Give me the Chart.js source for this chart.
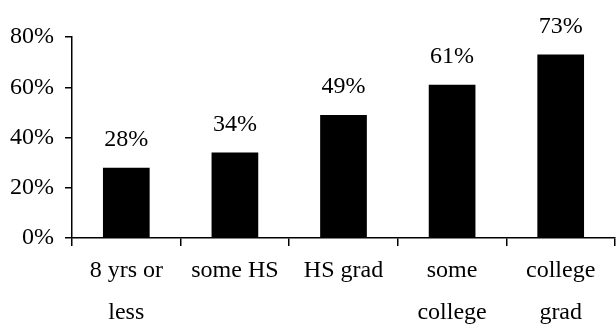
<!DOCTYPE html>
<html>
<head>
<meta charset="utf-8">
<script src="https://cdn.jsdelivr.net/npm/chart.js@4/dist/chart.umd.min.js"></script>
<style>
  html, body { margin: 0; padding: 0; background: #fff; }
  #wrap { width: 616px; height: 325px; }
</style>
</head>
<body>
<div id="wrap"><canvas id="chart" width="616" height="325"></canvas></div>
<script>
const categories = [["8 yrs or", "less"], "some HS", "HS grad", ["some", "college"], ["college", "grad"]];
const values = [28, 34, 49, 61, 73];
const yTicks = [0, 20, 40, 60, 80];

const fontFamily = "'Liberation Serif', 'Times New Roman', serif";

// draws the "28%" style labels above each bar
const valueLabels = {
  id: "valueLabels",
  afterDatasetsDraw(chart) {
    const ctx = chart.ctx;
    const meta = chart.getDatasetMeta(0);
    ctx.save();
    ctx.fillStyle = "#000";
    ctx.font = "24px " + fontFamily;
    ctx.textAlign = "center";
    ctx.textBaseline = "alphabetic";
    meta.data.forEach((bar, i) => {
      ctx.fillText(values[i] + "%", bar.x, bar.y - 22);
    });
    ctx.restore();
  }
};

new Chart(document.getElementById("chart"), {
  type: "bar",
  data: {
    labels: categories,
    datasets: [{
      data: values,
      backgroundColor: "#000",
      borderWidth: 0,
      barPercentage: 0.43,
      categoryPercentage: 1
    }]
  },
  options: {
    responsive: false,
    animation: false,
    layout: { padding: { top: 37, right: 1, left: 0, bottom: 0 } },
    plugins: { legend: { display: false }, tooltip: { enabled: false } },
    scales: {
      x: {
        offset: true,
        grid: {
          offset: true,
          drawOnChartArea: false,
          drawTicks: true,
          tickLength: 8,
          color: "#000",
          lineWidth: 1.5
        },
        border: { color: "#000", width: 1.5 },
        ticks: {
          color: "#000",
          padding: 4,
          maxRotation: 0,
          autoSkip: false,
          font: { family: fontFamily, size: 24, lineHeight: 1.75 }
        },
        afterFit(scale) { scale.height = 87; }
      },
      y: {
        min: 0,
        max: 80,
        afterBuildTicks(scale) { scale.ticks = yTicks.map(v => ({ value: v })); },
        grid: {
          drawOnChartArea: false,
          drawTicks: true,
          tickLength: 7,
          color: "#000",
          lineWidth: 1.5
        },
        border: { color: "#000", width: 1.5 },
        ticks: {
          color: "#000",
          padding: 11,
          font: { family: fontFamily, size: 24 },
          callback: v => v + "%"
        },
        afterFit(scale) { scale.width = 72; }
      }
    }
  },
  plugins: [valueLabels]
});
</script>
</body>
</html>
